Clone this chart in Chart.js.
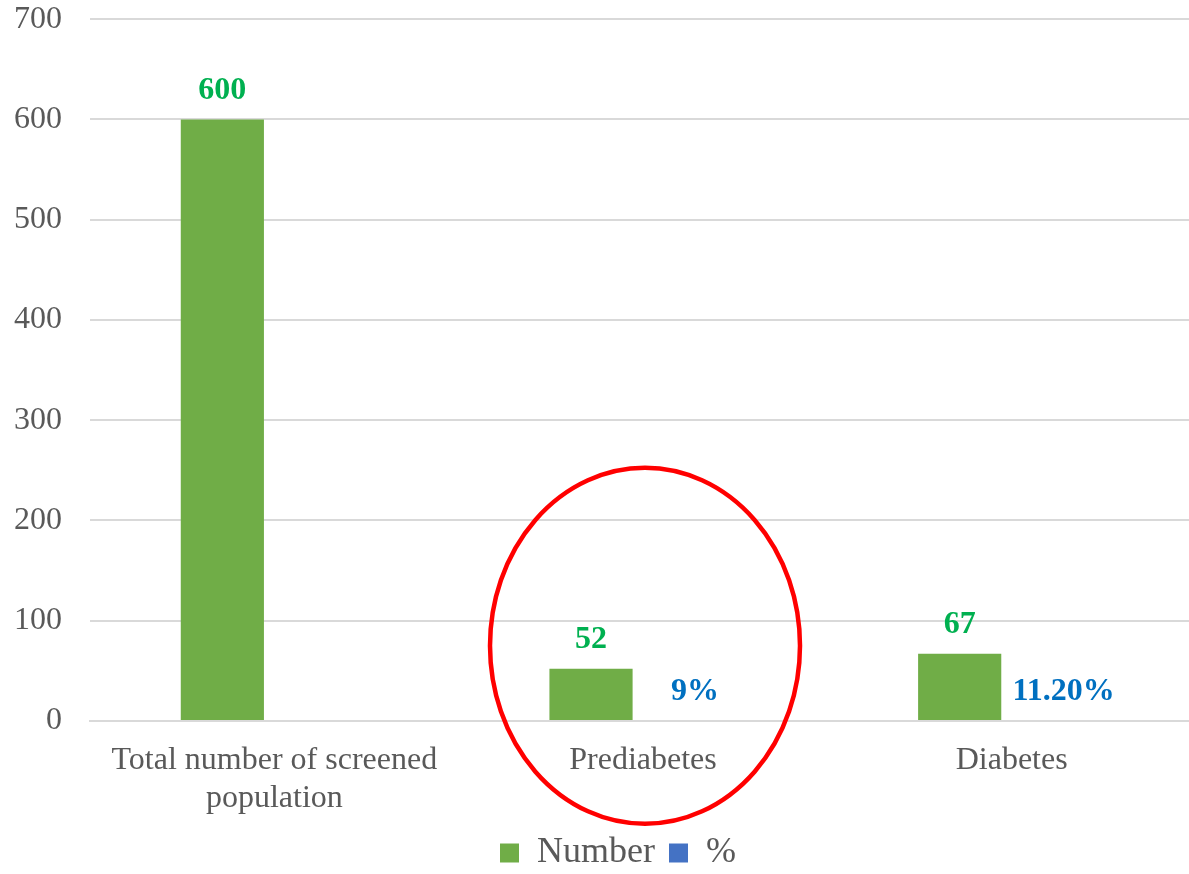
<!DOCTYPE html>
<html>
<head>
<meta charset="utf-8">
<script src="https://cdn.jsdelivr.net/npm/chart.js@4"></script>
<style>
  html, body { margin: 0; padding: 0; background: #fff; overflow: hidden; }
  #screenChart { display: block; }
</style>
</head>
<body>
<canvas id="screenChart" width="1196" height="874"></canvas>
<script>
// screening results: counts and share per group
const categories = [['Total number of screened', 'population'], 'Prediabetes', 'Diabetes'];
const numberValues = [600, 52, 67];
const percentValues = [null, 9, 11.2];
const yTicks = [0, 100, 200, 300, 400, 500, 600, 700];

// ring drawn round the prediabetes group (category index, value at centre)
const ringCategory = 1;
const ringCenterValue = 75;

const GREEN = '#70AD47';
const BLUE = '#4472C4';
const GRAY = '#595959';
const GRID = '#d9d9d9';

function formatPercent(v) {
  return Number.isInteger(v) ? v + '%' : v.toFixed(2) + '%';
}

// value labels above each bar
const barLabels = {
  id: 'barLabels',
  afterDatasetsDraw(chart) {
    const ctx = chart.ctx;
    ctx.save();
    ctx.font = 'bold 32px "Liberation Serif"';
    ctx.textAlign = 'center';
    ctx.textBaseline = 'middle';
    chart.data.datasets.forEach((ds, i) => {
      const meta = chart.getDatasetMeta(i);
      meta.data.forEach((bar, j) => {
        if (ds.data[j] == null) return;
        const text = i === 0 ? String(numberValues[j]) : formatPercent(percentValues[j]);
        ctx.fillStyle = i === 0 ? '#00B050' : '#0070C0';
        ctx.fillText(text, bar.x, bar.y - 29);
      });
    });
    ctx.restore();
  }
};

// red ellipse highlight
const ring = {
  id: 'ring',
  afterDraw(chart) {
    const ctx = chart.ctx;
    const x = chart.scales.x.getPixelForValue(ringCategory) + 2;
    const y = chart.scales.y.getPixelForValue(ringCenterValue);
    ctx.save();
    ctx.strokeStyle = '#FF0000';
    ctx.lineWidth = 4.5;
    ctx.beginPath();
    ctx.ellipse(x, y, 155, 178, 0, 0, Math.PI * 2);
    ctx.stroke();
    ctx.restore();
  }
};

// nudge the legend a little right
const legendShift = {
  id: 'legendShift',
  afterLayout(chart) {
    const lg = chart.legend;
    if (!lg) return;
    lg.left += 20;
    lg.right += 20;
  }
};

Chart.defaults.font.family = '"Liberation Serif", "Times New Roman", serif';
Chart.defaults.color = GRAY;

new Chart(document.getElementById('screenChart'), {
  type: 'bar',
  data: {
    labels: categories,
    datasets: [
      {
        label: 'Number',
        data: numberValues,
        backgroundColor: GREEN,
        inflateAmount: 0,
        categoryPercentage: 0.564,
        barPercentage: 0.8
      },
      {
        label: '%',
        data: percentValues.map(v => v == null ? null : v / 100),
        backgroundColor: BLUE,
        inflateAmount: 0,
        categoryPercentage: 0.564,
        barPercentage: 0.8
      }
    ]
  },
  options: {
    responsive: false,
    animation: false,
    layout: { padding: { top: 1, left: 0, right: 0, bottom: -7 } },
    plugins: {
      legend: {
        position: 'bottom',
        labels: {
          boxWidth: 19,
          boxHeight: 19,
          padding: 14,
          color: GRAY,
          font: { size: 36 }
        }
      },
      tooltip: { enabled: false }
    },
    scales: {
      x: {
        grid: { display: false },
        border: { color: GRID, width: 2, z: 1 },
        ticks: { color: GRAY, font: { size: 32 }, padding: 12, maxRotation: 0 },
        afterFit(axis) { axis.height = 100; }
      },
      y: {
        min: 0,
        max: 700,
        afterBuildTicks(axis) { axis.ticks = yTicks.map(v => ({ value: v })); },
        grid: { color: GRID, lineWidth: 2, drawTicks: true, tickLength: 28, tickColor: 'rgba(0,0,0,0)' },
        border: { display: false },
        ticks: { color: GRAY, font: { size: 32 }, padding: 0 },
        afterFit(axis) { axis.width = 90; }
      }
    }
  },
  plugins: [barLabels, ring, legendShift]
});
</script>
</body>
</html>
